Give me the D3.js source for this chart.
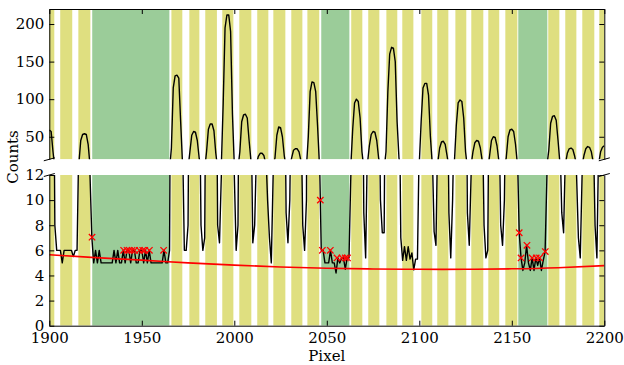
<!DOCTYPE html>
<html>
<head>
<meta charset="utf-8">
<script src="https://cdn.jsdelivr.net/npm/d3@7"></script>
<style>
  html, body { margin: 0; padding: 0; background: #fff; }
  svg { display: block; }
  .tick text { font-family: "DejaVu Serif", serif; font-size: 15px; fill: #000; }
</style>
</head>
<body>
<svg id="chart" width="624" height="365"></svg>
<script>
// ---------------- DATA ----------------
const pixelStart = 1900;
const counts = [
  59,57,30,8,6,6,6,5,6,6,
  6,6,6,5.5,6,6,15,45,53,54,
  53,40,12,7,5,6,5,6,5,5,
  5,5,5,5,5,6,5,6,5,5,
  6,5,6,6,5,6,6,5,5,6,
  6,5,6,5,6,5,5,5,5,5,
  5,5,6,5,5,6,35,115,131,132,
  128,70,15,6,6,8,30,52,57,56,
  45,22,8,6,7,30,60,67,67,58,
  28,8,6.6,12,95,195,212,212,190,80,
  12,6,8,30,70,79,80,75,45,18,
  6.6,8,14,24,28,28,25,14,10,7,
  5,12,22,52,63,62,50,25,9,6.6,
  10,22,32,34,34,30,18,8,6,10,
  50,110,123,122,110,65,14,6,6,5,
  5,5,6,5,5,4.2,5.4,5,5.4,5.4,
  4.5,5.4,5.4,12,60,95,100,97,75,30,
  9,5.4,15,38,53,57,56,45,22,10,
  7.4,7.4,30,110,160,169,168,150,70,22,
  7,5.2,6.3,5.2,6.3,5.3,5.8,4.45,5.3,5.3,
  15,70,115,121,121,105,50,14,7.5,6.4,
  16,35,43,44,40,25,9,5.4,10,18,
  65,95,99,97,75,30,9,6.4,12,30,
  42,45,44,35,18,8,5.4,6,25,45,
  50,49,38,18,8,6.4,10,22,50,59,
  60,57,40,14,7.4,5.4,4.4,5,6.4,5,
  4.4,5.4,4.4,5.4,4.8,5.4,4.4,5.2,5.9,12,
  32,68,77,78,72,45,15,9,7.4,14,
  28,34,35,33,24,12,7,5.4,12,25,
  34,37,36,30,16,8,5.4,15,30,36,
  38
];
const pixels = counts.map((_, i) => pixelStart + i);

const yellowBands = [
  [1897,1902.7],[1905.9,1912.4],[1915.7,1922.2],[1966,1971.9],[1975.7,1981.1],
  [1984.3,1990.6],[1993.5,1999.5],[2002.7,2009.2],[2012.4,2018.4],[2021.1,2027.6],
  [2030.8,2036.8],[2039.5,2045.9],[2063.2,2069.2],[2072.4,2078.4],[2082.2,2088.1],
  [2090.8,2096.8],[2101.1,2107],[2109.7,2115.7],[2119.5,2125.4],[2128.1,2134.6],
  [2137.3,2143.2],[2146.5,2153],[2169.7,2175.7],[2178.9,2184.9],[2188.1,2194.6],
  [2197.3,2203]
];
const greenBands = [[1923.2,1964.9],[2047,2062.2],[2153.5,2169.2]];

const fitX = [1900,1925,1950,1975,2000,2025,2050,2075,2100,2125,2150,2175,2200];
const fitY = [5.65,5.42,5.22,5.0,4.82,4.68,4.58,4.52,4.49,4.49,4.53,4.62,4.78];

const markX = [1923.1,1940.2,1942,1943.2,1944.7,1946.1,1948.7,1950.5,1951.6,1954.1,1961.8,
               2046.5,2047.6,2051.9,2055.5,2058.2,2060,2061.2,
               2154,2155,2158.2,2161,2163.2,2165,2168.1];
const markY = [7.05,6,6,6,6,6,6,6,6,6,6,
               10,6,6,5.4,5.4,5.4,5.4,
               7.4,5.4,6.4,5.4,5.4,5.4,5.9];

const xTicks = [1900,1950,2000,2050,2100,2150,2200];
const topTicks = [50,100,150,200];
const botTicks = [0,2,4,6,8,10,12];

// ---------------- LAYOUT ----------------
const L = 49.3, R = 604.3;
const topY0 = 9, topY1 = 159.3;
const botY0 = 175, botY1 = 325.7;

const svg = d3.select("#chart");
const x = d3.scaleLinear().domain([1900, 2200]).range([L, R]);
const yTop = d3.scaleLinear().domain([20, 220]).range([topY1, topY0]);
const yBot = d3.scaleLinear().domain([0, 12]).range([botY1, botY0]);

const defs = svg.append("defs");
defs.append("clipPath").attr("id", "clipTop").append("rect")
  .attr("x", L).attr("y", topY0).attr("width", R - L).attr("height", topY1 - topY0);
defs.append("clipPath").attr("id", "clipBot").append("rect")
  .attr("x", L).attr("y", botY0).attr("width", R - L).attr("height", botY1 - botY0);

const data = pixels.map((p, i) => [p, counts[i]]);

function panel(y, clipId, y0, y1, withFit) {
  const g = svg.append("g").attr("clip-path", `url(#${clipId})`);
  g.selectAll("rect.yb").data(yellowBands).enter().append("rect")
    .attr("x", d => x(d[0])).attr("width", d => x(d[1]) - x(d[0]))
    .attr("y", y0).attr("height", y1 - y0).attr("fill", "#dfdf80");
  g.selectAll("rect.gb").data(greenBands).enter().append("rect")
    .attr("x", d => x(d[0])).attr("width", d => x(d[1]) - x(d[0]))
    .attr("y", y0).attr("height", y1 - y0).attr("fill", "#9bcc99");
  g.append("path").datum(data)
    .attr("fill", "none").attr("stroke", "#000").attr("stroke-width", 1.4)
    .attr("stroke-linejoin", "round")
    .attr("d", d3.line().x(d => x(d[0])).y(d => y(d[1])));
  if (withFit) {
    g.append("path").datum(fitX.map((v, i) => [v, fitY[i]]))
      .attr("fill", "none").attr("stroke", "#ff0000").attr("stroke-width", 1.6)
      .attr("d", d3.line().curve(d3.curveNatural).x(d => x(d[0])).y(d => y(d[1])));
    const s = 3.2;
    const mk = g.selectAll("g.mk").data(markX.map((v, i) => [v, markY[i]])).enter()
      .append("g").attr("transform", d => `translate(${x(d[0])},${y(d[1])})`);
    mk.append("path").attr("d", `M${-s},${-s}L${s},${s}M${-s},${s}L${s},${-s}`)
      .attr("stroke", "#ff0000").attr("stroke-width", 1.3).attr("fill", "none");
  }
}
panel(yTop, "clipTop", topY0, topY1, false);
panel(yBot, "clipBot", botY0, botY1, true);

// ---------------- AXES ----------------
const tk = 5;
function style(g) {
  g.selectAll(".domain").attr("stroke", "#000").attr("stroke-width", 1);
  g.selectAll(".tick line").attr("stroke", "#000").attr("stroke-width", 1);
}
// top panel
svg.append("g").attr("transform", `translate(${L},0)`)
  .call(d3.axisLeft(yTop).tickValues(topTicks).tickSize(-tk).tickSizeOuter(0).tickPadding(5)).call(style);
svg.append("g").attr("transform", `translate(${R},0)`)
  .call(d3.axisRight(yTop).tickValues(topTicks).tickSize(-tk).tickSizeOuter(0).tickFormat("")).call(style);
svg.append("g").attr("transform", `translate(0,${topY0})`)
  .call(d3.axisTop(x).tickValues(xTicks).tickSize(-tk).tickSizeOuter(0).tickFormat("")).call(style);
// bottom panel
svg.append("g").attr("transform", `translate(${L},0)`)
  .call(d3.axisLeft(yBot).tickValues(botTicks).tickSize(-tk).tickSizeOuter(0).tickPadding(5)).call(style);
svg.append("g").attr("transform", `translate(${R},0)`)
  .call(d3.axisRight(yBot).tickValues(botTicks).tickSize(-tk).tickSizeOuter(0).tickFormat("")).call(style);
svg.append("g").attr("transform", `translate(0,${botY1})`)
  .call(d3.axisBottom(x).tickValues(xTicks).tickSize(-tk).tickSizeOuter(0).tickPadding(7).tickFormat(d3.format("d"))).call(style);

// break marks
const bw = 5.5, bh = 1.5;
[[L, topY1], [R, topY1], [L, botY0], [R, botY0]].forEach(([cx, cy]) => {
  svg.append("line").attr("x1", cx - bw).attr("y1", cy + bh).attr("x2", cx + bw).attr("y2", cy - bh)
    .attr("stroke", "#000").attr("stroke-width", 1);
});

// axis labels
svg.append("text").attr("x", (L + R) / 2).attr("y", 361).attr("text-anchor", "middle")
  .attr("font-family", "DejaVu Serif, serif").attr("font-size", 15).text("Pixel");
svg.append("text").attr("transform", `translate(18,157) rotate(-90)`).attr("text-anchor", "middle")
  .attr("font-family", "DejaVu Serif, serif").attr("font-size", 15).text("Counts");
</script>
</body>
</html>
